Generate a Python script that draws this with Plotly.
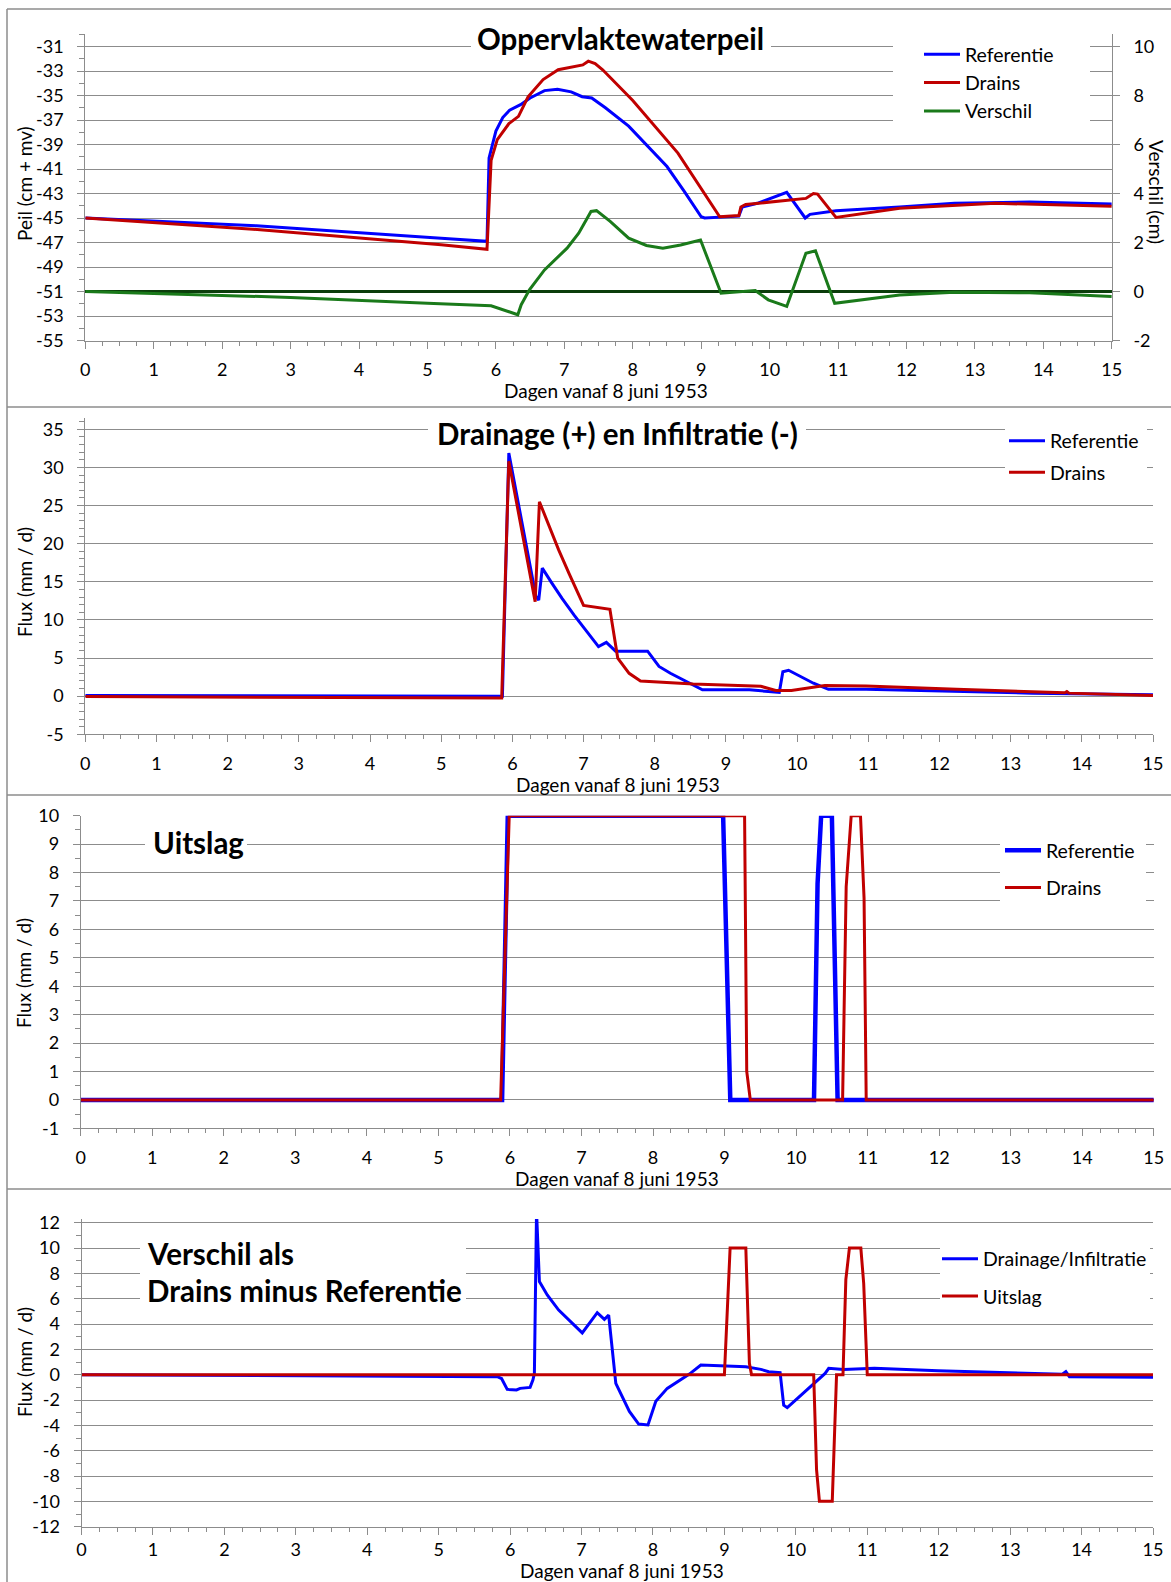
import plotly.graph_objects as go

W, H = 1171, 1582

# ---------------- data ----------------
dagen_ticks = list(range(0, 16))

# Panel 1: Oppervlaktewaterpeil (cm + mv) and Verschil (cm)
peil_ref_dag = [0, 2.5, 5.2, 5.87, 5.9, 6.0, 6.1, 6.2, 6.36, 6.5, 6.71, 6.9, 7.1, 7.26, 7.4, 7.6, 7.94,
                8.2, 8.5, 8.75, 9.0, 9.05, 9.55, 9.6, 9.82, 10.25, 10.52, 10.59, 10.97, 11.9, 12.7, 13.8, 15]
peil_ref = [-45.0, -45.64, -46.65, -46.9, -40.1, -37.9, -36.8, -36.2, -35.75, -35.2, -34.6, -34.5, -34.7,
            -35.1, -35.2, -36.0, -37.5, -39.0, -40.8, -42.8, -44.9, -45.0, -44.85, -44.1, -43.8, -42.9,
            -45.0, -44.7, -44.4, -44.1, -43.8, -43.7, -43.85]
peil_drains_dag = [0, 2.45, 5.2, 5.87, 5.93, 6.02, 6.19, 6.33, 6.47, 6.69, 6.91, 7.19, 7.27, 7.35, 7.45,
                   7.56, 8.0, 8.66, 9.27, 9.55, 9.58, 9.65, 10.53, 10.64, 10.7, 10.97, 11.9, 13.3, 15]
peil_drains = [-45.0, -45.91, -47.19, -47.55, -40.3, -38.6, -37.3, -36.7, -35.1, -33.7, -32.9, -32.6,
               -32.5, -32.2, -32.4, -32.9, -35.4, -39.7, -44.9, -44.8, -44.1, -43.9, -43.4, -43.0, -43.05,
               -44.95, -44.2, -43.8, -44.05]
verschil_dag = [0, 3.0, 5.0, 5.93, 6.32, 6.37, 6.49, 6.71, 7.04, 7.21, 7.39, 7.47, 7.67, 7.94, 8.2, 8.44,
                8.7, 8.99, 9.29, 9.79, 9.98, 10.25, 10.53, 10.67, 10.95, 11.9, 12.7, 13.8, 15]
verschil = [0.0, -0.24, -0.48, -0.58, -0.95, -0.54, 0.07, 0.88, 1.77, 2.38, 3.27, 3.3, 2.86, 2.18, 1.88,
            1.77, 1.9, 2.1, -0.07, 0.04, -0.34, -0.61, 1.56, 1.66, -0.48, -0.14, -0.03, -0.05, -0.2]
peil_ticks = list(range(-55, -30, 2))
verschil_ticks = list(range(-2, 11, 2))

# Panel 2: Drainage (+) en Infiltratie (-), flux (mm/d)
flux_ref_dag = [0, 5.86, 5.95, 6.33, 6.37, 6.42, 6.55, 6.7, 6.87, 7.0, 7.21, 7.32, 7.45, 7.9, 8.06, 8.22,
                8.48, 8.67, 9.33, 9.75, 9.8, 9.88, 10.23, 10.44, 10.97, 12.24, 13.3, 15]
flux_ref = [0.1, 0.0, 31.9, 13.1, 12.6, 16.8, 14.9, 12.8, 10.6, 9.0, 6.5, 7.05, 5.9, 5.9, 3.9, 3.0, 1.7,
            0.83, 0.83, 0.5, 3.2, 3.4, 1.7, 0.9, 0.9, 0.6, 0.4, 0.2]
flux_drains_dag = [0, 5.85, 5.95, 6.32, 6.38, 6.5, 6.65, 6.8, 6.92, 7.0, 7.37, 7.42, 7.48, 7.64, 7.8,
                   8.54, 9.49, 9.7, 9.92, 10.39, 10.97, 12.24, 13.76, 13.79, 13.82, 15]
flux_drains = [-0.05, -0.25, 30.8, 12.4, 25.5, 22.6, 19.2, 16.0, 13.4, 11.9, 11.4, 8.3, 5.0, 3.0, 2.0,
               1.6, 1.3, 0.75, 0.75, 1.4, 1.35, 0.9, 0.45, 0.6, 0.4, 0.1]
flux_ticks = list(range(-5, 36, 5))

# Panel 3: Uitslag (mm/d)
uitslag_ref_dag = [0, 5.89, 5.97, 8.98, 9.08, 10.25, 10.3, 10.35, 10.5, 10.58, 15]
uitslag_ref = [0, 0, 10, 10, 0, 0, 7.6, 10, 10, 0, 0]
uitslag_drains_dag = [0, 5.87, 5.99, 9.28, 9.31, 9.36, 10.65, 10.7, 10.77, 10.9, 10.95, 10.98, 15]
uitslag_drains = [0, 0, 10, 10, 1.0, 0, 0, 7.5, 10, 10, 7.1, 0, 0]
uitslag_ticks = list(range(-1, 11))

# Panel 4: Verschil als Drains minus Referentie (mm/d)
vdrain_dag = [0, 5.82, 5.88, 5.96, 6.09, 6.14, 6.28, 6.32, 6.34, 6.37, 6.41, 6.52, 6.68, 7.01, 7.22,
              7.32, 7.38, 7.43, 7.48, 7.67, 7.8, 7.93, 8.04, 8.2, 8.51, 8.67, 9.3, 9.51, 9.62, 9.78,
              9.83, 9.88, 10.41, 10.46, 10.67, 11.1, 11.99, 13.73, 13.78, 13.83, 15]
vdrain = [0, -0.16, -0.3, -1.16, -1.2, -1.08, -1.0, -0.4, 0.1, 12.9, 7.35, 6.3, 5.1, 3.3, 4.9, 4.37,
          4.7, 1.7, -0.68, -2.9, -3.9, -3.97, -2.1, -1.08, 0.05, 0.76, 0.63, 0.42, 0.24, 0.16, -2.4,
          -2.6, 0.1, 0.5, 0.42, 0.5, 0.32, 0.03, 0.24, -0.16, -0.2]
vuitslag_dag = [0, 9.0, 9.08, 9.3, 9.35, 9.38, 10.25, 10.29, 10.33, 10.51, 10.57, 10.66, 10.70, 10.75,
                10.91, 10.95, 11.0, 15]
vuitslag = [0, 0, 10, 10, 0.9, 0, 0, -7.5, -10, -10, 0, 0, 7.5, 10, 10, 7.2, 0, 0]
vflux_ticks = list(range(-12, 13, 2))

# ---------------- styling ----------------
FONT = "Lato"
GRID = "#8c8c8c"
BLUE = "#0000ff"
RED = "#c00000"
GREEN = "#1a7a1a"
DKGREEN = "#0b3d0b"
TF = dict(family=FONT, size=18, color="black")
LF = dict(family=FONT, size=19.5, color="black")

# panel geometry in pixels, with axis ranges
P = {
    1: dict(x0=85.3, x1=1111.8, top=34.25, bot=340.5, yr=[-55, -30], xa="x", ya="y"),
    2: dict(x0=85.3, x1=1153.0, top=417.9, bot=734.3, yr=[-5, 36.5], xa="x2", ya="y3"),
    3: dict(x0=80.7, x1=1153.8, top=815.7, bot=1128.3, yr=[-1, 10], xa="x3", ya="y4"),
    4: dict(x0=81.5, x1=1153.0, top=1218.9, bot=1526.7, yr=[-12, 12.3], xa="x4", ya="y5"),
}


def px_x(px):
    return px / W


def px_y(py):
    return 1 - py / H


def labels(vals):
    return [str(v) for v in vals]


def xaxis(p, anchor, standoff=6):
    return dict(domain=[px_x(p["x0"]), px_x(p["x1"])], anchor=anchor, range=[0, 15],
                tickmode="array", tickvals=dagen_ticks, ticktext=labels(dagen_ticks),
                ticks="outside", ticklen=7, tickwidth=1, tickcolor=GRID,
                showline=True, linecolor=GRID, linewidth=1, showgrid=False, zeroline=False,
                tickfont=TF, ticklabelstandoff=standoff,
                minor=dict(tick0=0, dtick=0.25, ticks="outside", ticklen=4, tickwidth=1,
                           tickcolor=GRID, showgrid=False))


def yaxis(p, anchor, tvals, minor_dtick):
    rng = p["yr"]
    return dict(domain=[px_y(p["bot"]), px_y(p["top"])], anchor=anchor, range=rng,
                tickmode="array", tickvals=tvals, ticktext=labels(tvals),
                ticks="outside", ticklen=7, tickwidth=1, tickcolor=GRID,
                showline=True, linecolor=GRID, linewidth=1, showgrid=True, gridcolor=GRID,
                gridwidth=1, zeroline=False, tickfont=TF, ticklabelstandoff=10,
                minor=dict(tick0=rng[0], dtick=minor_dtick, ticks="outside", ticklen=5, tickwidth=1,
                           tickcolor=GRID, showgrid=False))


fig = go.Figure()

# Panel 1
fig.add_trace(go.Scatter(x=peil_ref_dag, y=peil_ref, name="Referentie", mode="lines",
                         line=dict(color=BLUE, width=3), xaxis="x", yaxis="y",
                         legend="legend", legendgroup="a1"))
fig.add_trace(go.Scatter(x=peil_drains_dag, y=peil_drains, name="Drains", mode="lines",
                         line=dict(color=RED, width=3), xaxis="x", yaxis="y",
                         legend="legend", legendgroup="b1"))
fig.add_trace(go.Scatter(x=verschil_dag, y=verschil, name="Verschil", mode="lines",
                         line=dict(color=GREEN, width=3), xaxis="x", yaxis="y2",
                         legend="legend", legendgroup="c1"))
# Panel 2
fig.add_trace(go.Scatter(x=flux_ref_dag, y=flux_ref, name="Referentie", mode="lines",
                         line=dict(color=BLUE, width=3), xaxis="x2", yaxis="y3",
                         legend="legend2", legendgroup="a2"))
fig.add_trace(go.Scatter(x=flux_drains_dag, y=flux_drains, name="Drains", mode="lines",
                         line=dict(color=RED, width=3), xaxis="x2", yaxis="y3",
                         legend="legend2", legendgroup="b2"))
# Panel 3
fig.add_trace(go.Scatter(x=uitslag_ref_dag, y=uitslag_ref, name="Referentie", mode="lines",
                         line=dict(color=BLUE, width=4.5), xaxis="x3", yaxis="y4",
                         legend="legend3", legendgroup="a3"))
fig.add_trace(go.Scatter(x=uitslag_drains_dag, y=uitslag_drains, name="Drains", mode="lines",
                         line=dict(color=RED, width=3), xaxis="x3", yaxis="y4",
                         legend="legend3", legendgroup="b3"))
# Panel 4
fig.add_trace(go.Scatter(x=vdrain_dag, y=vdrain, name="Drainage/Infiltratie", mode="lines",
                         line=dict(color=BLUE, width=3), xaxis="x4", yaxis="y5",
                         legend="legend4", legendgroup="a4"))
fig.add_trace(go.Scatter(x=vuitslag_dag, y=vuitslag, name="Uitslag", mode="lines",
                         line=dict(color=RED, width=3), xaxis="x4", yaxis="y5",
                         legend="legend4", legendgroup="b4"))

layout = dict(
    width=W, height=H, margin=dict(l=0, r=0, t=0, b=0, autoexpand=False),
    paper_bgcolor="white", plot_bgcolor="white", showlegend=True,
    font=dict(family=FONT, size=18, color="black"),
    xaxis=xaxis(P[1], "y"),
    xaxis2=xaxis(P[2], "y3"),
    xaxis3=xaxis(P[3], "y4"),
    xaxis4=xaxis(P[4], "y5", standoff=0),
    yaxis=yaxis(P[1], "x", peil_ticks, 1),
    yaxis3=yaxis(P[2], "x2", flux_ticks, 1),
    yaxis4=yaxis(P[3], "x3", uitslag_ticks, 0.5),
    yaxis5=yaxis(P[4], "x4", vflux_ticks, 1),
)
layout["yaxis2"] = dict(overlaying="y", side="right", anchor="x", range=[-2, 10.5],
                        tickmode="array", tickvals=verschil_ticks, ticktext=labels(verschil_ticks),
                        ticks="outside", ticklen=7, tickcolor=GRID, showline=True, linecolor=GRID,
                        linewidth=1, showgrid=False, zeroline=True, zerolinecolor=DKGREEN,
                        zerolinewidth=3, tickfont=TF, ticklabelstandoff=10)


def legend_at(xpx, ypx, gap):
    return dict(x=px_x(xpx), y=px_y(ypx), xanchor="left", yanchor="top", bgcolor="rgba(0,0,0,0)",
                borderwidth=0, font=LF, tracegroupgap=gap, itemwidth=36, traceorder="grouped")


layout["legend"] = legend_at(919, 35, 0)
layout["legend2"] = legend_at(1004, 421.6, 3)
layout["legend3"] = legend_at(1000, 831, 9)
layout["legend4"] = legend_at(937, 1239.5, 9)

fig.update_layout(**layout)


# white masks behind titles/legends (above gridlines, below data)
def mask(k, ax0, ax1, ay0, ay1):
    p = P[k]
    fx = lambda v: (v - p["x0"]) / (p["x1"] - p["x0"]) * 15
    fy = lambda v: p["yr"][0] + (p["bot"] - v) / (p["bot"] - p["top"]) * (p["yr"][1] - p["yr"][0])
    fig.add_shape(type="rect", xref=p["xa"], yref=p["ya"],
                  x0=fx(ax0), x1=fx(ax1), y0=fy(ay1), y1=fy(ay0),
                  fillcolor="white", line=dict(width=0), layer="between")


mask(1, 471, 771, 25, 60)
mask(1, 893, 1090, 28, 126)
mask(2, 428, 806, 418, 450)
mask(2, 1005, 1147, 418, 490)
mask(3, 145, 247, 822, 868)
mask(3, 1000, 1146, 822, 912)
mask(4, 140, 466, 1227, 1316)
mask(4, 940, 1150, 1230, 1312)

# panel borders (kept inside the page)
for ypx in [9, 407, 795, 1189]:
    fig.add_shape(type="line", xref="paper", yref="paper", x0=px_x(7), x1=1.0,
                  y0=px_y(ypx), y1=px_y(ypx), line=dict(color=GRID, width=1.5), layer="above")
fig.add_shape(type="line", xref="paper", yref="paper", x0=px_x(7), x1=px_x(7), y0=px_y(9), y1=0.0,
              line=dict(color=GRID, width=1.5), layer="above")

# titles
TTL = dict(family=FONT, size=29.5, color="black", weight="bold")


def ann(text, xpx, ypx, font, xanchor="center", angle=0):
    fig.add_annotation(text=text, x=px_x(xpx), y=px_y(ypx), xref="paper", yref="paper",
                       xanchor=xanchor, yanchor="middle", showarrow=False, font=font,
                       textangle=angle, borderpad=0)


ann("Oppervlaktewaterpeil", 620, 38, TTL)
ann("Drainage (+) en Infiltratie (-)", 617, 433, TTL)
ann("Uitslag", 198, 843, TTL)
ann("Verschil als", 146, 1253, TTL, xanchor="left")
ann("Drains minus Referentie", 146, 1290, TTL, xanchor="left")

AXT = dict(family=FONT, size=19, color="black")
ann("Dagen vanaf 8 juni 1953", 606, 390, AXT)
ann("Dagen vanaf 8 juni 1953", 618, 785, AXT)
ann("Dagen vanaf 8 juni 1953", 617, 1178, AXT)
ann("Dagen vanaf 8 juni 1953", 622, 1570, AXT)
ann("Peil (cm + mv)", 24, 184, AXT, angle=-90)
ann("Verschil (cm)", 1156, 192, AXT, angle=90)
ann("Flux (mm / d)", 24, 582, AXT, angle=-90)
ann("Flux (mm / d)", 24, 973, AXT, angle=-90)
ann("Flux (mm / d)", 24, 1362, AXT, angle=-90)

fig.write_html("out.html")
